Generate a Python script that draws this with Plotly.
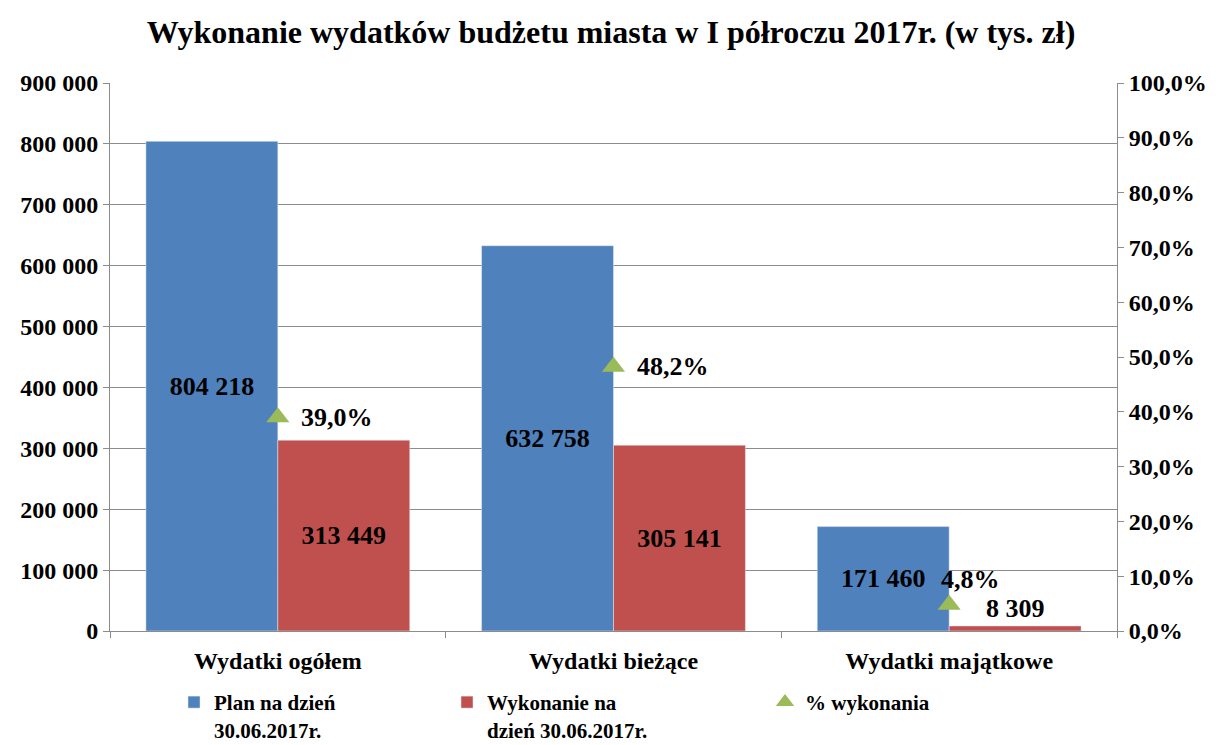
import plotly.graph_objects as go

categories = ["Wydatki ogółem", "Wydatki bieżące", "Wydatki majątkowe"]
plan = [804218, 632758, 171460]
wykonanie = [313449, 305141, 8309]
procent = [0.390, 0.482, 0.048]

title = "Wykonanie wydatków budżetu miasta w I półroczu 2017r. (w tys. zł)"
name_plan = "Plan na dzień<br>30.06.2017r."
name_wyk = "Wykonanie na<br>dzień 30.06.2017r."
name_proc = "% wykonania"

FONT = "Liberation Serif, Times New Roman, serif"
GRID = "#8c8c8c"
TICK = 24
LEG = 21
LABEL = 26

fig = go.Figure()
fig.add_trace(go.Bar(
    x=categories, y=plan, name=name_plan, marker_color="#4F81BD",
    texttemplate="<b>%{y:,d}</b>", textposition="inside", insidetextanchor="middle",
    textfont=dict(family=FONT, size=LABEL, color="black"), legend="legend",
    cliponaxis=False,
))
fig.add_trace(go.Bar(
    x=categories, y=wykonanie, name=name_wyk, marker_color="#C0504D",
    texttemplate="<b>%{y:,d}</b>", textposition=["inside", "inside", "outside"],
    insidetextanchor="middle",
    textfont=dict(family=FONT, size=LABEL, color="black"), legend="legend2",
    cliponaxis=False,
))
fig.add_trace(go.Scatter(
    x=categories, y=procent, name=name_proc, yaxis="y2", mode="markers",
    marker=dict(symbol="triangle-up", size=20, color="#9BBB59"),
    legend="legend3", cliponaxis=False,
))

# percentage labels placed relative to the markers
shifts = [(21, 0), (21, 0), (-10, 25)]
for cat, p, (dx, dy) in zip(categories, procent, shifts):
    fig.add_annotation(
        x=cat, y=p, yref="y2", xref="x",
        text="<b>" + f"{p * 100:.1f}%".replace(".", ",") + "</b>",
        showarrow=False, xanchor="left", yanchor="middle",
        xshift=dx, yshift=dy,
        font=dict(family=FONT, size=LABEL, color="black"),
    )

legend_common = dict(
    orientation="v", yanchor="top", y=-0.093, xanchor="left",
    font=dict(family=FONT, size=LEG, color="black"), valign="top",
    itemwidth=30, bgcolor="rgba(0,0,0,0)", tracegroupgap=0,
)

fig.update_layout(
    width=1222, height=745,
    margin=dict(l=110, r=105, t=83, b=114, autoexpand=False),
    paper_bgcolor="white", plot_bgcolor="white",
    separators=", ",
    barmode="group", bargap=0.214, bargroupgap=0,
    title=dict(text="<b>" + title + "</b>", x=0.5, xanchor="center",
               y=1 - 32 / 745, yanchor="middle",
               font=dict(family=FONT, size=32, color="black")),
    font=dict(family=FONT, color="black"),
    xaxis=dict(
        showline=True, linecolor=GRID, linewidth=1,
        ticks="outside", tickson="boundaries", ticklen=6, tickcolor=GRID,
        tickfont=dict(family=FONT, size=TICK, color="black"),
        tickprefix="<b>", ticksuffix="</b>", ticklabelstandoff=8,
    ),
    yaxis=dict(
        range=[0, 900000], dtick=100000, tickformat=",d",
        showline=True, linecolor=GRID, linewidth=1,
        showgrid=True, gridcolor=GRID, gridwidth=1,
        ticks="outside", ticklen=6, tickcolor=GRID, zeroline=False,
        tickfont=dict(family=FONT, size=TICK, color="black"),
        tickprefix="<b>", ticksuffix="</b>",
    ),
    yaxis2=dict(
        range=[0, 1], dtick=0.1, tickformat=".1%", overlaying="y", side="right",
        showline=True, linecolor=GRID, linewidth=1, showgrid=False,
        ticks="outside", ticklen=6, tickcolor=GRID, zeroline=False,
        tickfont=dict(family=FONT, size=TICK, color="black"),
        tickprefix="<b>", ticksuffix="</b>",
    ),
    legend=dict(legend_common, x=(174 - 110) / 1007),
    legend2=dict(legend_common, x=(447 - 110) / 1007),
    legend3=dict(legend_common, x=(765 - 110) / 1007),
    showlegend=True,
)
for t in fig.data:
    t.name = "<b>" + t.name + "</b>"

fig.write_html(
    "out.html",
    config={"displayModeBar": False},
    post_script="document.body.style.margin='0';document.body.style.overflow='hidden';",
)
